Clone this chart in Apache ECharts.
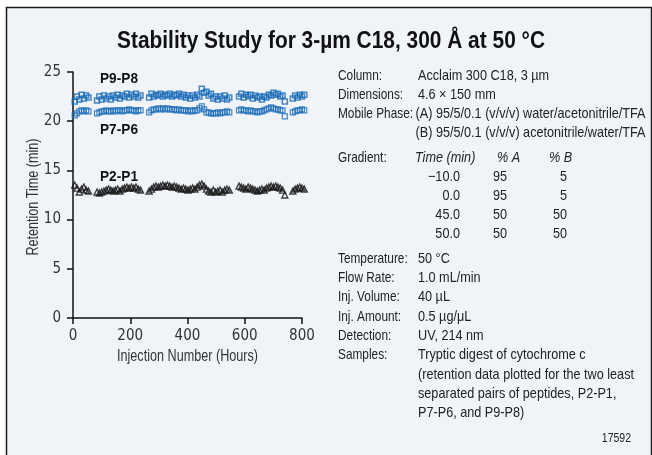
<!DOCTYPE html>
<html>
<head>
<meta charset="utf-8">
<script src="https://cdn.jsdelivr.net/npm/echarts@6/dist/echarts.min.js"></script>
<style>
html,body{margin:0;padding:0;background:#ffffff;}
#chart{width:652px;height:455px;}
</style>
</head>
<body>
<div id="chart"></div>
<script>
// ---- data ----
var injection = [6, 14, 22, 30, 38, 46, 54,
  84, 92, 100, 108, 116, 124, 132, 140, 148, 156, 164, 172, 180, 188, 196, 204, 212, 220, 228, 236,
  266, 274, 282, 290, 298, 306, 314, 322, 330, 338, 346, 354, 362, 370, 378, 386, 394, 402, 410, 418,
  426, 434, 442, 450, 458, 466, 474, 482, 490, 498, 506, 514, 522, 530, 538, 546,
  580, 588, 596, 604, 612, 620, 628, 636, 644, 652, 660, 668, 676, 684, 692, 700, 708, 716, 724, 732, 740,
  768, 776, 784, 792, 800, 808];
var p9p8 = [22.0, 22.5, 22.2, 22.7, 22.3, 22.6, 22.4,
  22.1, 22.5, 22.2, 22.6, 22.3, 22.5, 22.2, 22.6, 22.4, 22.7, 22.3, 22.6, 22.5, 22.8, 22.4, 22.7, 22.5, 22.8, 22.4, 22.6,
  22.4, 22.8, 22.5, 22.7, 22.6, 22.8, 22.5, 22.7, 22.6, 22.8, 22.5, 22.7, 22.6, 22.8, 22.5, 22.7, 22.4, 22.6, 22.3, 22.6,
  22.4, 22.7, 22.5, 23.3, 22.9, 23.0, 22.6, 22.8, 22.3, 22.5, 22.2, 22.5, 22.3, 22.6, 22.2, 22.4,
  22.5, 22.8, 22.4, 22.7, 22.5, 22.7, 22.3, 22.6, 22.4, 22.5, 22.2, 22.5, 22.4, 22.7, 22.6, 22.9, 22.7, 22.8, 22.5, 22.6, 22.0,
  22.3, 22.6, 22.4, 22.7, 22.5, 22.7];
var p7p6 = [20.6, 20.8, 21.0, 21.1, 21.0, 21.1, 21.0,
  20.8, 20.9, 21.0, 21.0, 21.1, 21.0, 21.0, 21.1, 21.0, 21.1, 21.1, 21.0, 21.1, 21.1, 21.2, 21.1, 21.1, 21.0, 21.1, 21.1,
  20.9, 21.1, 21.2, 21.2, 21.3, 21.2, 21.3, 21.2, 21.3, 21.2, 21.2, 21.2, 21.1, 21.2, 21.1, 21.1, 21.1, 21.0, 21.1, 21.0,
  21.1, 21.1, 21.3, 21.5, 21.2, 20.9, 20.9, 20.8, 20.8, 20.8, 20.9, 20.8, 20.9, 20.9, 21.0, 20.9,
  21.1, 21.2, 21.1, 21.1, 21.0, 21.1, 21.0, 21.0, 20.9, 21.0, 21.0, 21.1, 21.2, 21.3, 21.4, 21.3, 21.2, 21.2, 21.1, 21.1, 20.5,
  20.9, 21.0, 21.1, 21.1, 21.2, 21.1];
var p2p1 = [13.5, 13.2, 12.8, 13.1, 13.3, 13.0, 12.9,
  12.8, 12.7, 12.8, 12.9, 13.0, 13.1, 13.0, 12.9, 13.0, 13.1, 12.9, 13.1, 13.2, 13.3, 13.2, 13.3, 13.2, 13.3, 13.1, 13.0,
  12.9, 13.1, 13.3, 13.4, 13.3, 13.4, 13.5, 13.4, 13.5, 13.4, 13.3, 13.4, 13.3, 13.2, 13.1, 13.2, 13.1, 13.0, 13.1, 13.2,
  13.1, 13.3, 13.5, 13.6, 13.4, 13.1, 12.9, 12.8, 13.0, 12.8, 12.9, 13.0, 12.8, 13.0, 13.1, 13.0,
  13.4, 13.3, 13.2, 13.1, 13.3, 13.2, 13.1, 13.0, 12.9, 13.0, 13.1, 13.0, 13.2, 13.3, 13.4, 13.3, 13.4, 13.3, 13.2, 13.0, 12.5,
  12.9, 13.1, 13.2, 13.3, 13.2, 13.1];
var seriesNames = ['P9-P8', 'P7-P6', 'P2-P1'];
var yTicks = [0, 5, 10, 15, 20, 25];
var xTicks = [0, 200, 400, 600, 800];

var titleText = 'Stability Study for 3-\u00b5m C18, 300 \u00c5 at 50 \u00b0C';
var xName = 'Injection Number (Hours)';
var yName = 'Retention Time (min)';

var topLabels = ['Column:', 'Dimensions:', 'Mobile Phase:', ''];
var topValues = ['Acclaim 300 C18, 3 \u00b5m', '4.6 \u00d7 150 mm',
  '(A) 95/5/0.1 (v/v/v) water/acetonitrile/TFA',
  '(B) 95/5/0.1 (v/v/v) acetonitrile/water/TFA'];
var gradientLabel = 'Gradient:';
var gradientHeader = ['Time (min)', '% A', '% B'];
var gradientTime = ['\u221210.0', '0.0', '45.0', '50.0'];
var gradientA = ['95', '95', '50', '50'];
var gradientB = ['5', '5', '50', '50'];
var bottomLabels = ['Temperature:', 'Flow Rate:', 'Inj. Volume:', 'Inj. Amount:', 'Detection:', 'Samples:', '', '', ''];
var bottomValues = ['50 \u00b0C', '1.0 mL/min', '40 \u00b5L', '0.5 \u00b5g/\u03bcL', 'UV, 214 nm',
  'Tryptic digest of cytochrome c',
  '(retention data plotted for the two least',
  'separated pairs of peptides, P2-P1,',
  'P7-P6, and P9-P8)'];
var figureId = '17592';

// ---- build ----
var FONT = "'Liberation Sans', Arial, sans-serif";
var TICKFONT = "'DejaVu Sans Condensed', 'Liberation Sans', sans-serif";
var BLUE = '#1a6cb6';
function pairs(ys) { return injection.map(function (x, i) { return [x, ys[i]]; }); }

var measureCtx = document.createElement('canvas').getContext('2d');
function textWidth(t, size, weight, style) {
  measureCtx.font = (style || 'normal') + ' ' + (weight || 'normal') + ' ' + size + 'px ' + FONT;
  return measureCtx.measureText(t).width;
}

var graphics = [];
graphics.push({ type: 'rect', z: -10, silent: true,
  shape: { x: 6.5, y: 7.5, width: 645, height: 470 },
  style: { fill: '#f0f4f9', stroke: '#1a1a1a', lineWidth: 1.5 } });

var BODY = 14.5;
var bodyScale = 230 / textWidth(topValues[2], BODY);
var labelScale = 75 / textWidth(topLabels[2], BODY);

function txt(t, x, y, opts) {
  opts = opts || {};
  graphics.push({ type: 'text', silent: true, x: x, y: y,
    scaleX: opts.scale || bodyScale, rotation: opts.rotation || 0,
    style: { text: t, fontFamily: FONT, fontSize: opts.size || BODY,
      fontWeight: opts.weight || 'normal', fontStyle: opts.style || 'normal',
      fill: opts.color || '#222', align: opts.align || 'left', verticalAlign: 'middle' } });
}
var labX = 338, valX = 418;
topLabels.forEach(function (l, i) { var y = 75.5 + i * 19.3; if (l) txt(l, labX, y, { scale: labelScale }); txt(topValues[i], i >= 2 ? 415.5 : valX, y); });
txt(gradientLabel, labX, 158.3, { scale: labelScale });
txt(gradientHeader[0], 415, 158.3, { style: 'italic' });
txt(gradientHeader[1], 497, 158.3, { style: 'italic' });
txt(gradientHeader[2], 549, 158.3, { style: 'italic' });
gradientTime.forEach(function (t, i) {
  var y = 177.3 + i * 18.8;
  txt(t, 460, y, { align: 'right' });
  txt(gradientA[i], 507, y, { align: 'right' });
  txt(gradientB[i], 567, y, { align: 'right' });
});
bottomLabels.forEach(function (l, i) { var y = 258.7 + i * 19.3; if (l) txt(l, labX, y, { scale: labelScale }); txt(bottomValues[i], valX, y); });
txt(figureId, 631, 438.5, { align: 'right', size: 12 });

// series labels
var labScale = 38 / textWidth(seriesNames[0], 14.5, 'bold');
txt(seriesNames[0], 100, 78.5, { weight: 'bold', size: 14.5, color: '#111', scale: labScale });
txt(seriesNames[1], 100, 130, { weight: 'bold', size: 14.5, color: '#111', scale: labScale });
txt(seriesNames[2], 100, 176.5, { weight: 'bold', size: 14.5, color: '#111', scale: labScale });

// title and axis names
txt(titleText, 331, 42, { weight: 'bold', size: 23, color: '#111', align: 'center',
  scale: 428 / textWidth(titleText, 23, 'bold') });
txt(xName, 187.5, 356.5, { size: 16, color: '#333', align: 'center',
  scale: 141 / textWidth(xName, 16) });
txt(yName, 33.5, 197, { size: 16, color: '#333', align: 'center', rotation: Math.PI / 2,
  scale: 117 / textWidth(yName, 16) });

var chart = echarts.init(document.getElementById('chart'), null, { renderer: 'canvas' });
chart.setOption({
  backgroundColor: 'transparent',
  animation: false,
  grid: { left: 73, top: 72, right: 350, bottom: 137, containLabel: false },
  xAxis: { type: 'value', min: xTicks[0], max: xTicks[xTicks.length - 1], interval: 200,
    axisLine: { lineStyle: { color: '#111', width: 1.5 } },
    axisTick: { inside: false, length: 6, lineStyle: { color: '#111', width: 1.5 } },
    axisLabel: { fontFamily: TICKFONT, fontSize: 15, color: '#333', margin: 11 },
    splitLine: { show: false } },
  yAxis: { type: 'value', min: yTicks[0], max: yTicks[yTicks.length - 1], interval: 5,
    axisLine: { show: true, lineStyle: { color: '#111', width: 1.5 } },
    axisTick: { show: true, inside: false, length: 6, lineStyle: { color: '#111', width: 1.5 } },
    axisLabel: { fontFamily: TICKFONT, fontSize: 15, color: '#333', margin: 12 },
    splitLine: { show: false } },
  graphic: graphics,
  series: [
    { name: seriesNames[0], type: 'scatter', clip: false, data: pairs(p9p8),
      symbol: 'rect', symbolSize: 5,
      itemStyle: { color: 'rgba(0,0,0,0)', borderColor: BLUE, borderWidth: 1.5 } },
    { name: seriesNames[1], type: 'scatter', clip: false, data: pairs(p7p6),
      symbol: 'rect', symbolSize: 5,
      itemStyle: { color: 'rgba(0,0,0,0)', borderColor: BLUE, borderWidth: 1.2 } },
    { name: seriesNames[2], type: 'scatter', clip: false, data: pairs(p2p1),
      symbol: 'triangle', symbolSize: 6,
      itemStyle: { color: 'rgba(0,0,0,0)', borderColor: '#111', borderWidth: 1.4 } }
  ]
});
</script>
</body>
</html>
